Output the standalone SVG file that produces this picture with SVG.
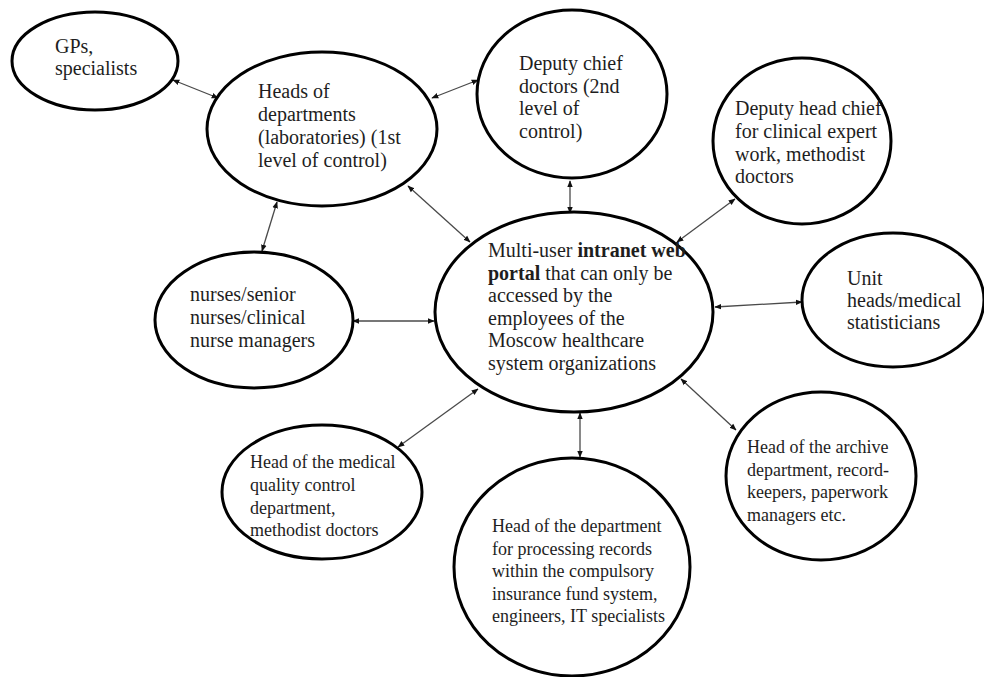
<svg xmlns="http://www.w3.org/2000/svg" width="984" height="677" viewBox="0 0 984 677">
<defs>
<style>
.node ellipse{fill:#fff;stroke:#000;stroke-width:3}
.node text{font-family:"Liberation Serif","Times New Roman",serif;font-size:20px;fill:#1e1e1e}
.node.sm text{font-size:18px}
.b{font-weight:bold}
#connectors line{stroke:#4a4a4a;stroke-width:1.3;marker-start:url(#ah);marker-end:url(#ah)}
</style>
<marker id="ah" viewBox="0 0 10 10" refX="9" refY="5" markerWidth="7" markerHeight="7" markerUnits="userSpaceOnUse" orient="auto-start-reverse">
<path d="M0,1 L10,5 L0,9 z" fill="#111"/>
</marker>
</defs>
<rect width="984" height="677" fill="#fff"/>
<g id="connectors">
<line x1="173" y1="80" x2="218" y2="98"/>
<line x1="432" y1="98" x2="478" y2="80"/>
<line x1="277" y1="202" x2="262" y2="251"/>
<line x1="408" y1="186" x2="470" y2="242"/>
<line x1="570" y1="181" x2="570" y2="213"/>
<line x1="677" y1="242" x2="735" y2="199"/>
<line x1="353" y1="321" x2="434" y2="321"/>
<line x1="715" y1="307" x2="802" y2="302"/>
<line x1="681" y1="379" x2="736" y2="430"/>
<line x1="580" y1="413" x2="580" y2="457"/>
<line x1="478" y1="389" x2="398" y2="447"/>
</g>
<g id="gps" class="node">
<ellipse cx="95" cy="61" rx="83" ry="49"/>
<text x="55" y="53">GPs,</text>
<text x="55" y="75">specialists</text>
</g>
<g id="heads" class="node">
<ellipse cx="322" cy="129" rx="115" ry="77"/>
<text x="258" y="98">Heads of</text>
<text x="258" y="121">departments</text>
<text x="258" y="144">(laboratories) (1st</text>
<text x="258" y="167">level of control)</text>
</g>
<g id="deputy-chief" class="node">
<ellipse cx="572" cy="94" rx="95" ry="84"/>
<text x="519" y="70">Deputy chief</text>
<text x="519" y="93">doctors (2nd</text>
<text x="519" y="115">level of</text>
<text x="519" y="138">control)</text>
</g>
<g id="deputy-head" class="node">
<ellipse cx="802" cy="141" rx="89" ry="83"/>
<text x="735" y="115">Deputy head chief</text>
<text x="735" y="138">for clinical expert</text>
<text x="735" y="161">work, methodist</text>
<text x="735" y="183">doctors</text>
</g>
<g id="nurses" class="node">
<ellipse cx="254" cy="320" rx="99" ry="68"/>
<text x="190" y="301">nurses/senior</text>
<text x="190" y="324">nurses/clinical</text>
<text x="190" y="347">nurse managers</text>
</g>
<g id="portal" class="node">
<ellipse cx="574" cy="312" rx="139" ry="100"/>
<text x="488" y="257">Multi-user <tspan class="b">intranet web</tspan></text>
<text x="488" y="280"><tspan class="b">portal</tspan> that can only be</text>
<text x="488" y="302">accessed by the</text>
<text x="488" y="325">employees of the</text>
<text x="488" y="347">Moscow healthcare</text>
<text x="488" y="370">system organizations</text>
</g>
<g id="unit" class="node">
<ellipse cx="893" cy="300" rx="91" ry="67"/>
<text x="847" y="285">Unit</text>
<text x="847" y="307">heads/medical</text>
<text x="847" y="329">statisticians</text>
</g>
<g id="quality" class="node sm">
<ellipse cx="322" cy="492" rx="100" ry="67"/>
<text x="250" y="468">Head of the medical</text>
<text x="250" y="491">quality control</text>
<text x="250" y="514">department,</text>
<text x="250" y="536">methodist doctors</text>
</g>
<g id="records" class="node sm">
<ellipse cx="572" cy="567" rx="118" ry="109"/>
<text x="492" y="532">Head of the department</text>
<text x="492" y="555">for processing records</text>
<text x="492" y="577">within the compulsory</text>
<text x="492" y="600">insurance fund system,</text>
<text x="492" y="622">engineers, IT specialists</text>
</g>
<g id="archive" class="node sm">
<ellipse cx="821" cy="476" rx="95" ry="84"/>
<text x="747" y="453">Head of the archive</text>
<text x="747" y="476">department, record-</text>
<text x="747" y="498">keepers, paperwork</text>
<text x="747" y="521">managers etc.</text>
</g>
</svg>
